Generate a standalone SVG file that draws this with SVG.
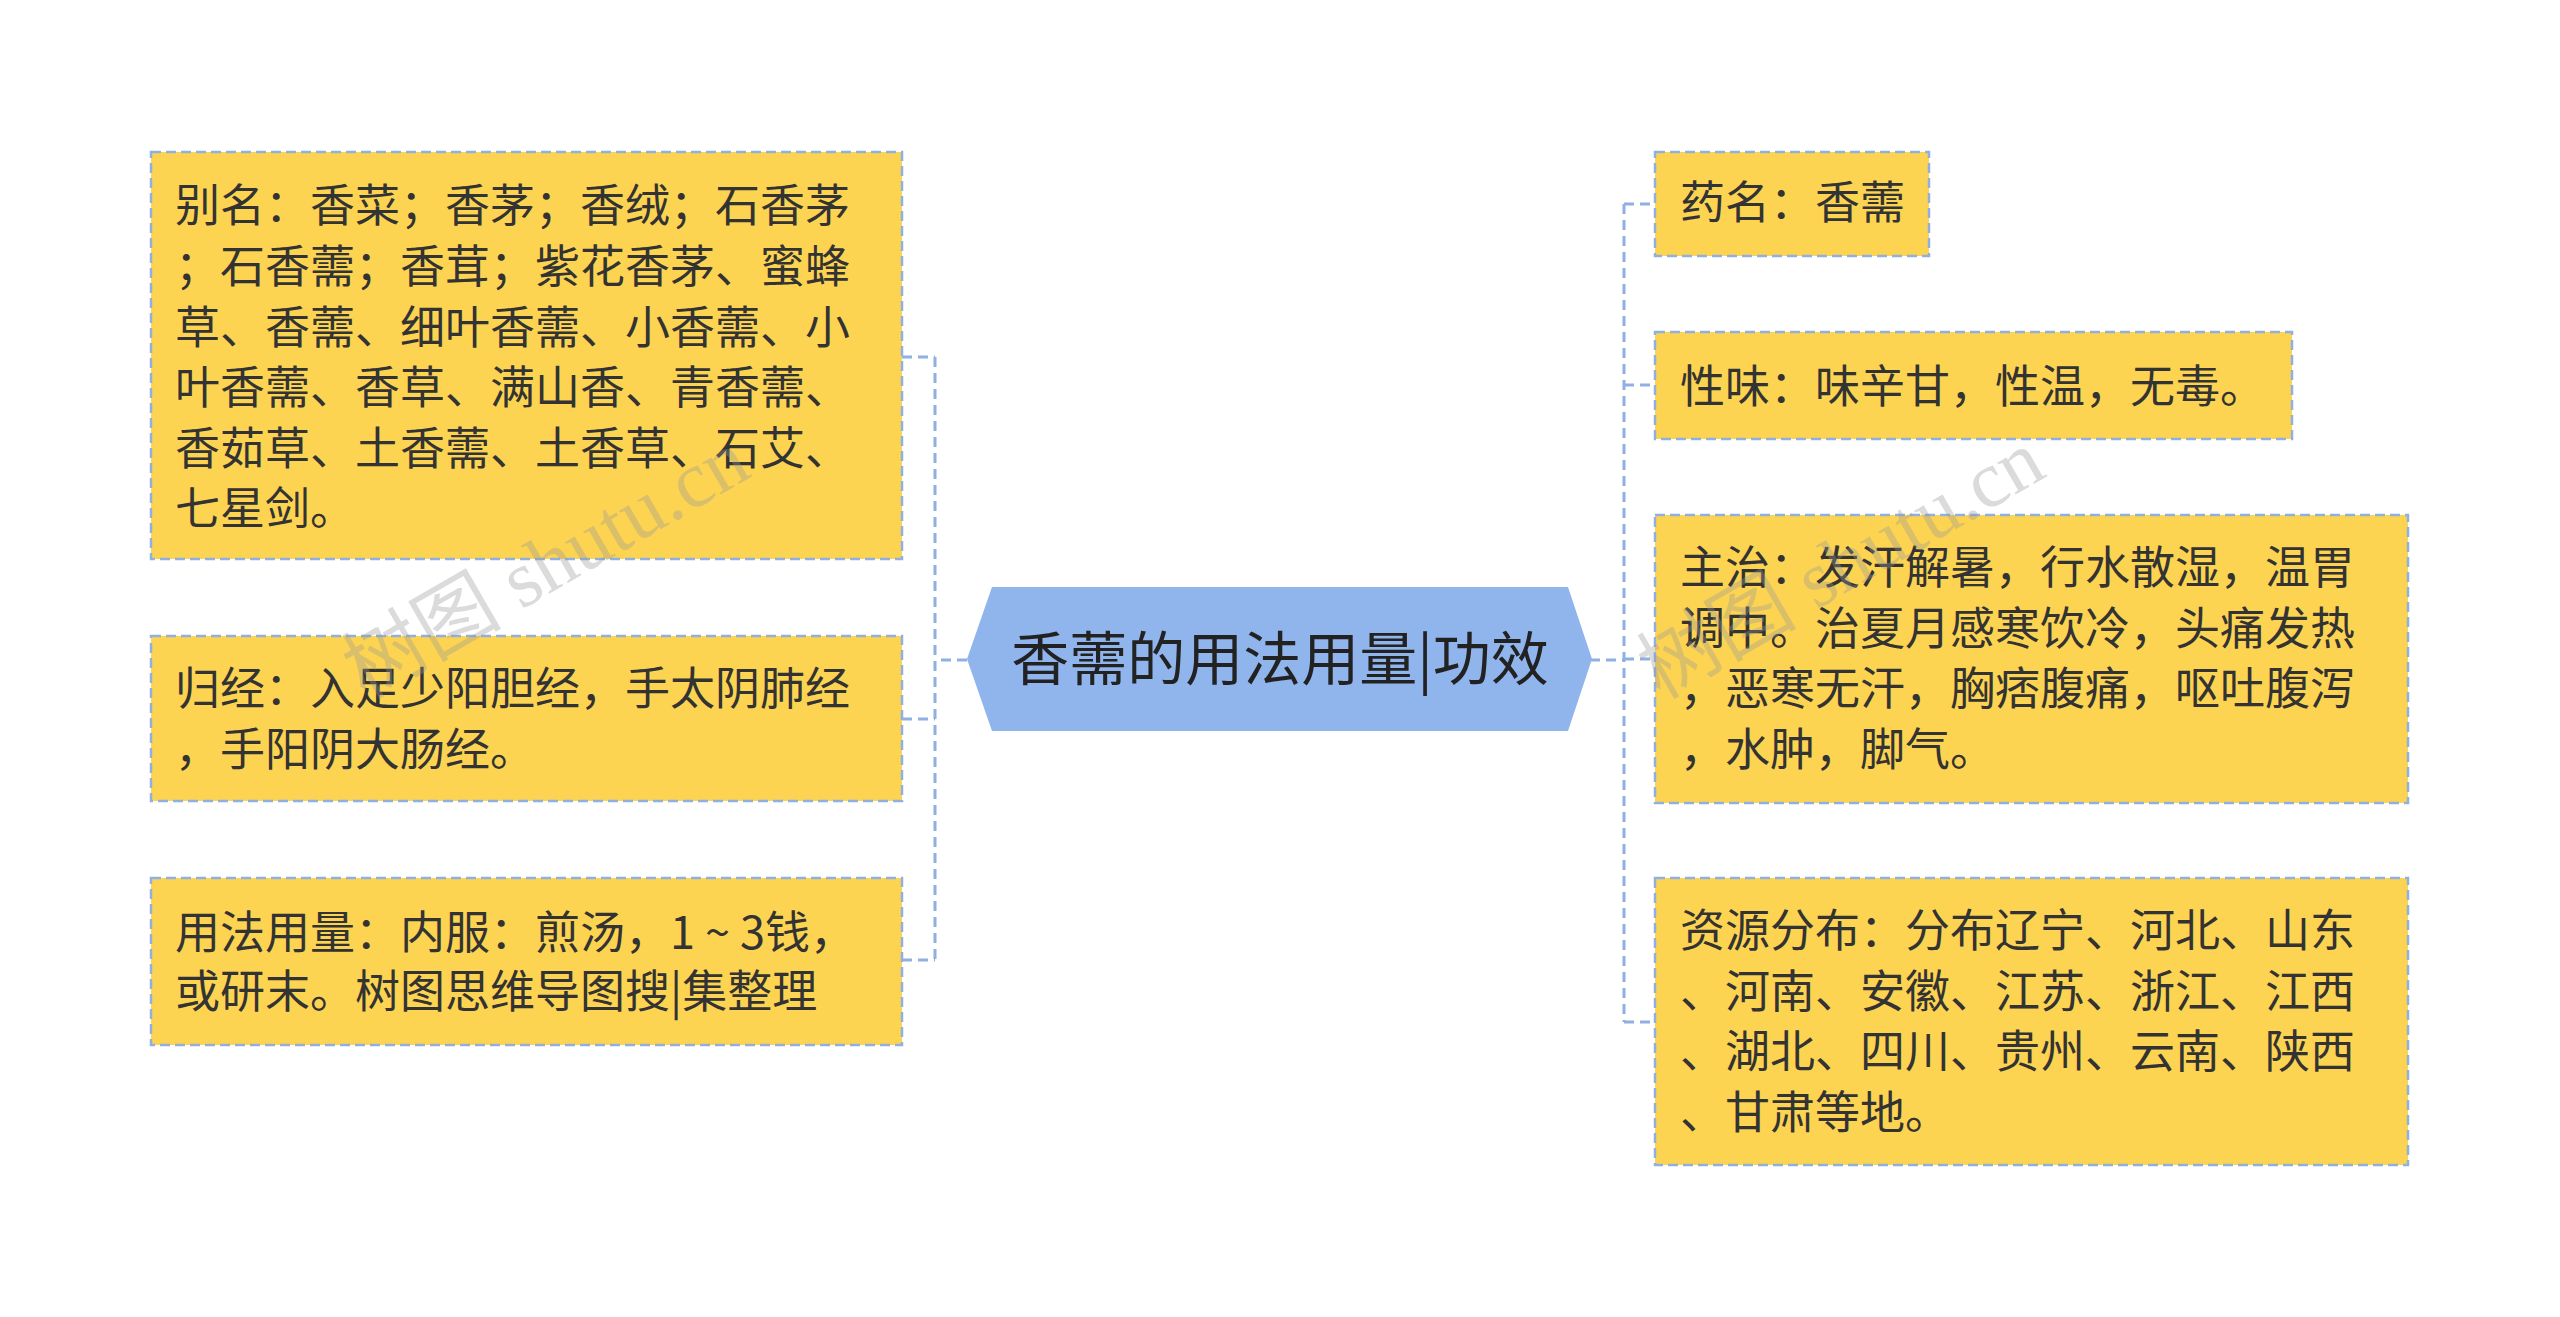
<svg xmlns="http://www.w3.org/2000/svg" width="2560" height="1317" viewBox="0 0 2560 1317">
<style>
.box{fill:#FDD452;stroke:#8FB0E0;stroke-width:2.5;stroke-dasharray:10 5}
.t{font-family:"Noto Sans CJK SC","Noto Sans",sans-serif;font-size:45px;fill:#333}
.c{fill:none;stroke:#8FB0E0;stroke-width:3;stroke-dasharray:10 6}
.wm{font-family:"Liberation Serif","Noto Sans CJK SC",serif;font-size:80px;fill:#999;opacity:0.35}
</style>
<rect width="2560" height="1317" fill="#fff"/>
<g id="connectors">
<path class="c" d="M967 660H935M935 357V960M902 357H935M902 719H935M902 960H935"/>
<path class="c" d="M1590 660H1624M1624 204V1022M1624 204H1655M1624 385H1655M1624 659H1655M1624 1022H1655"/>
</g>
<g id="center">
<polygon points="967,659 992,587 1568,587 1592,659 1568,731 992,731" fill="#90B4EC"/>
<text x="1280" y="680" text-anchor="middle" font-family="Noto Sans CJK SC,sans-serif" font-size="58" fill="#222">香薷的用法用量|功效</text>
</g>
<g id="n1"><rect class="box" x="151" y="152" width="751" height="407"/>
<text class="t"><tspan x="175" y="222">别名：香菜；香茅；香绒；石香茅</tspan><tspan x="175" y="283">；石香薷；香茸；紫花香茅、蜜蜂</tspan><tspan x="175" y="344">草、香薷、细叶香薷、小香薷、小</tspan><tspan x="175" y="404">叶香薷、香草、满山香、青香薷、</tspan><tspan x="175" y="465">香茹草、土香薷、土香草、石艾、</tspan><tspan x="175" y="525">七星剑。</tspan></text></g>
<g id="n2"><rect class="box" x="151" y="636" width="751" height="165"/>
<text class="t"><tspan x="175" y="705">归经：入足少阳胆经，手太阴肺经</tspan><tspan x="175" y="766">，手阳阴大肠经。</tspan></text></g>
<g id="n3"><rect class="box" x="151" y="878" width="751" height="167"/>
<text class="t"><tspan x="175" y="949">用法用量：内服：煎汤，1 ~ 3钱，</tspan><tspan x="175" y="1008">或研末。树图思维导图搜|集整理</tspan></text></g>
<g id="r1"><rect class="box" x="1655" y="152" width="274" height="104"/>
<text class="t" x="1680" y="219">药名：香薷</text></g>
<g id="r2"><rect class="box" x="1655" y="332" width="637" height="107"/>
<text class="t" x="1680" y="403">性味：味辛甘，性温，无毒。</text></g>
<g id="r3"><rect class="box" x="1655" y="515" width="753" height="288"/>
<text class="t"><tspan x="1680" y="584">主治：发汗解暑，行水散湿，温胃</tspan><tspan x="1680" y="645">调中。治夏月感寒饮冷，头痛发热</tspan><tspan x="1680" y="705">，恶寒无汗，胸痞腹痛，呕吐腹泻</tspan><tspan x="1680" y="766">，水肿，脚气。</tspan></text></g>
<g id="r4"><rect class="box" x="1655" y="878" width="753" height="287"/>
<text class="t"><tspan x="1680" y="947">资源分布：分布辽宁、河北、山东</tspan><tspan x="1680" y="1008">、河南、安徽、江苏、浙江、江西</tspan><tspan x="1680" y="1068">、湖北、四川、贵州、云南、陕西</tspan><tspan x="1680" y="1129">、甘肃等地。</tspan></text></g>
<text class="wm" transform="translate(365,700) rotate(-30)">树图 shutu.cn</text>
<text class="wm" transform="translate(1660,700) rotate(-30)">树图 shutu.cn</text>
</svg>
